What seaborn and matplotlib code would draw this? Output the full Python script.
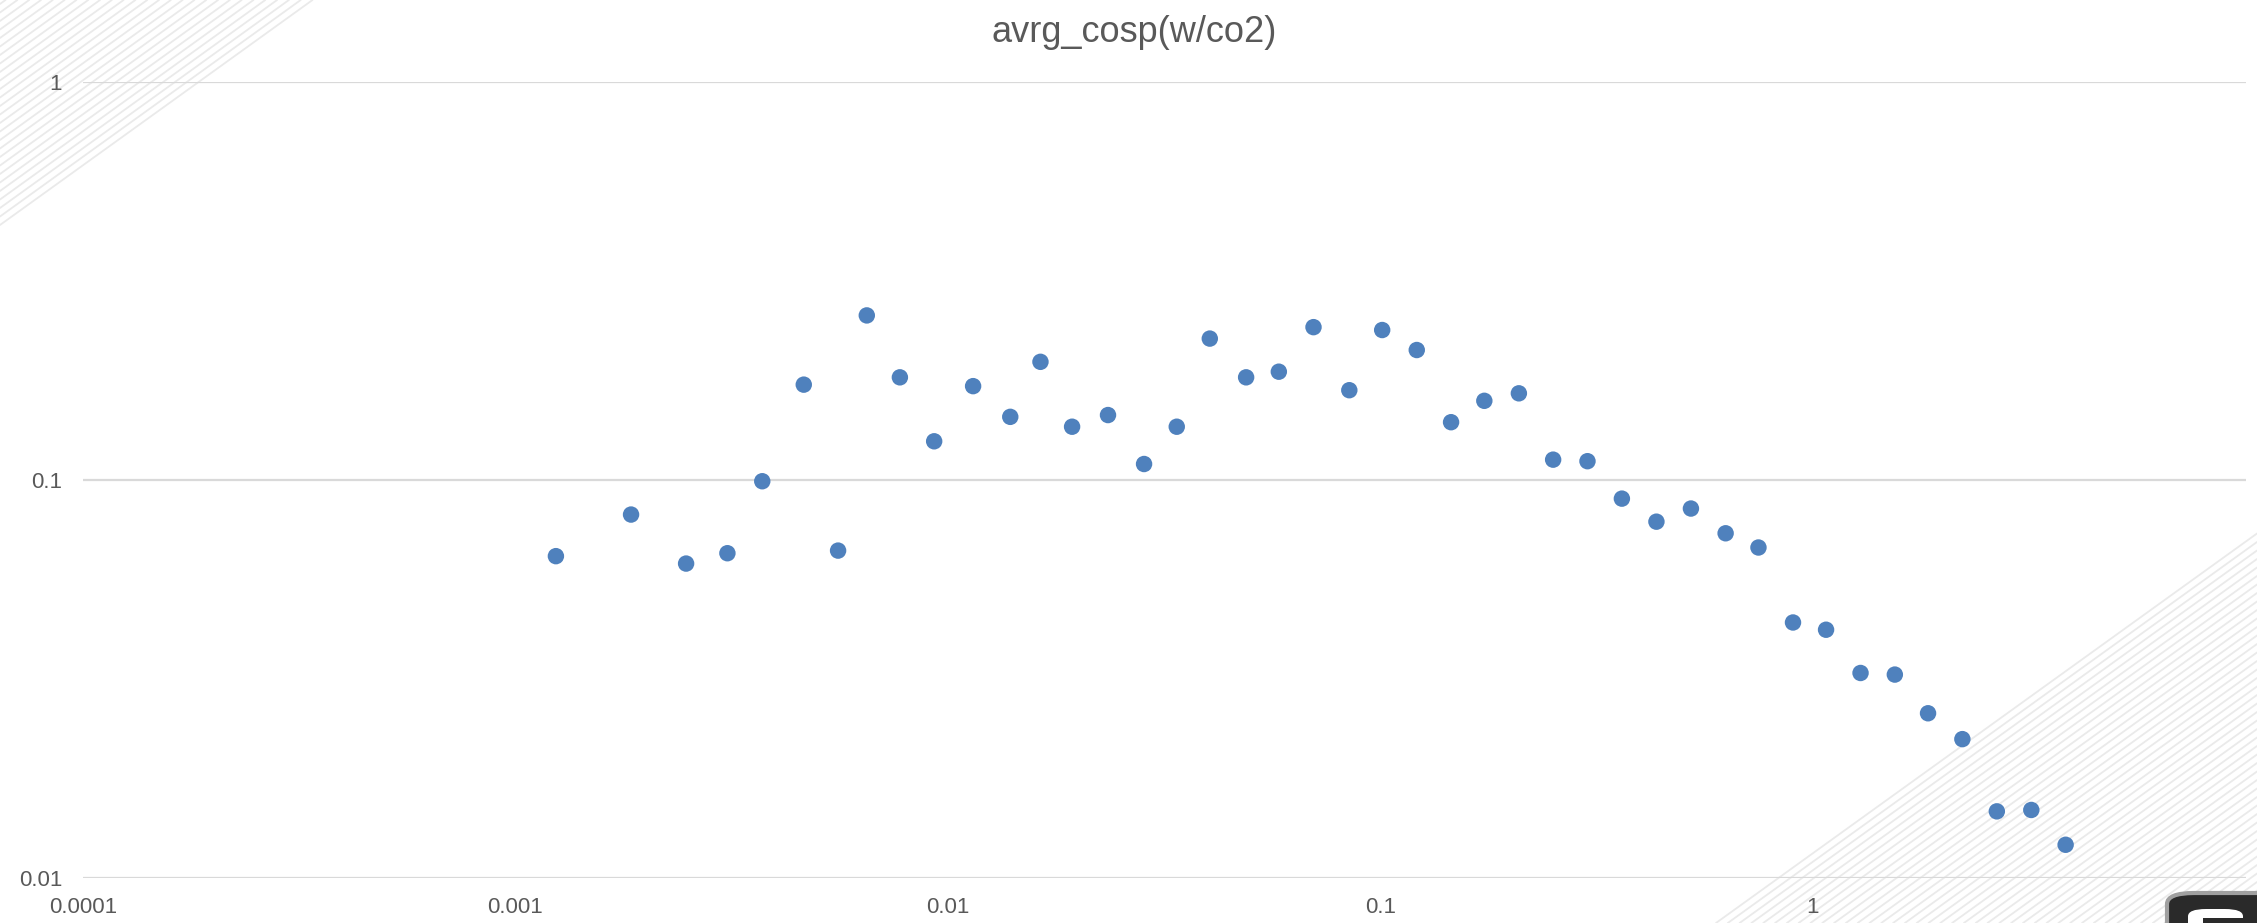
import matplotlib
matplotlib.use("Agg")
import matplotlib.pyplot as plt
from matplotlib.lines import Line2D
from matplotlib.patches import FancyBboxPatch, Rectangle
from matplotlib.ticker import FixedLocator, FixedFormatter, NullLocator
import numpy as np
import pandas as pd
import seaborn as sns

# Frequency (x) and averaged w/co2 cospectrum (y)
freq = [0.00124, 0.00185, 0.00248, 0.00309, 0.00372, 0.00464, 0.00557, 0.00649,
        0.00774, 0.00929, 0.01143, 0.01393, 0.01636, 0.01936, 0.02344, 0.0284,
        0.0338, 0.0403, 0.0489, 0.0582, 0.0700, 0.0847, 0.1009, 0.1213,
        0.1456, 0.1738, 0.2089, 0.2507, 0.301, 0.3615, 0.4345, 0.5221,
        0.628, 0.748, 0.899, 1.072, 1.288, 1.546, 1.845, 2.215,
        2.661, 3.197, 3.838]
cosp = [0.0643, 0.0818, 0.0616, 0.0654, 0.0992, 0.1735, 0.0664, 0.259,
        0.181, 0.125, 0.172, 0.144, 0.198, 0.136, 0.1455, 0.1096,
        0.136, 0.2265, 0.181, 0.187, 0.242, 0.168, 0.238, 0.212,
        0.1396, 0.158, 0.165, 0.1124, 0.1114, 0.0897, 0.0785, 0.0847,
        0.0734, 0.0676, 0.0438, 0.0420, 0.0327, 0.0324, 0.0259, 0.0223,
        0.01468, 0.0148, 0.0121]

x_ticks = [0.0001, 0.001, 0.01, 0.1, 1, 10]
x_tick_labels = ["0.0001", "0.001", "0.01", "0.1", "1", "10"]
y_ticks = [0.01, 0.1, 1]
y_tick_labels = ["0.01", "0.1", "1"]

title_text = "avrg_cosp(w/co2)"

sns.set_theme(style="white")
plt.rcParams["font.family"] = ["Liberation Sans", "DejaVu Sans"]

TEXT = "#595959"
GRID = "#d9d9d9"
DOT = "#4F81BD"
STRIPE = "#eaeaea"

W, H = 2257, 923
fig = plt.figure(figsize=(W / 100, H / 100), dpi=100)
fig.patch.set_facecolor("white")


def px_line(x0, y0, x1, y1, **kw):
    """Draw a line given in pixel units (origin top-left) on the figure."""
    fig.add_artist(Line2D([x0 / W, x1 / W], [1 - y0 / H, 1 - y1 / H], **kw))


# Faint diagonal stripes in two corners of the chart area
k = 0.72
for c in np.arange(4, 226, 8.5):
    px_line(0, c, c / k, 0, color=STRIPE, lw=1.3, zorder=0)
for c in np.arange(H + 1716 * k, H + W * k + 8, 8.5):
    xa, ya = (c - H) / k, H
    xb, yb = W, c - k * W
    if yb < 0:
        xb, yb = c / k, 0
    if xa < W:
        px_line(xa, ya, xb, yb, color=STRIPE, lw=1.3, zorder=0)

ax_left, ax_right, ax_top, ax_bottom = 83, 2245.5, 82, 877.7
ax = fig.add_axes([ax_left / W, 1 - ax_bottom / H,
                   (ax_right - ax_left) / W, (ax_bottom - ax_top) / H])
ax.set_facecolor("none")
ax.set_zorder(2)

df = pd.DataFrame({"freq": freq, "cosp": cosp})
sns.scatterplot(data=df, x="freq", y="cosp", ax=ax, color=DOT, s=140,
                edgecolor="none", linewidth=0, zorder=3, legend=False)

ax.set_xscale("log")
ax.set_yscale("log")
ax.set_xlim(1e-4, 10)
ax.set_ylim(0.01, 1)

ax.xaxis.set_major_locator(FixedLocator(x_ticks))
ax.xaxis.set_major_formatter(FixedFormatter(x_tick_labels))
ax.xaxis.set_minor_locator(NullLocator())
ax.yaxis.set_major_locator(FixedLocator(y_ticks))
ax.yaxis.set_major_formatter(FixedFormatter(y_tick_labels))
ax.yaxis.set_minor_locator(NullLocator())

ax.grid(False)
for yv in y_ticks:
    ax.axhline(yv, color=GRID, lw=1.6, zorder=1)

for sp in ax.spines.values():
    sp.set_visible(False)

ax.tick_params(axis="both", length=0, labelsize=16, labelcolor=TEXT)
ax.tick_params(axis="x", pad=14)
ax.tick_params(axis="y", pad=15)
ax.set_xlabel("")
ax.set_ylabel("")

fig.text(1134 / W, 1 - 42.5 / H, title_text, ha="center", va="baseline",
         fontsize=26, color=TEXT)

# Corner badge
fig.add_artist(FancyBboxPatch((2167 / W, 1 - 960 / H), 130 / W, 67 / H,
                              boxstyle="round,pad=0,rounding_size=0.012",
                              transform=fig.transFigure, facecolor="#2a2a2a",
                              edgecolor="#a0a0a0", lw=3, zorder=5, clip_on=False))
fig.add_artist(FancyBboxPatch((2188 / W, 1 - 950 / H), 55 / W, 41 / H,
                              boxstyle="round,pad=0,rounding_size=0.008",
                              transform=fig.transFigure, facecolor="white",
                              edgecolor="none", zorder=6, clip_on=False))
fig.add_artist(Rectangle((2203 / W, 1 - 950 / H), 45 / W, 32 / H,
                         transform=fig.transFigure, facecolor="#2a2a2a",
                         edgecolor="none", zorder=7, clip_on=False))

fig.savefig("out.png", dpi=100, facecolor="white")
